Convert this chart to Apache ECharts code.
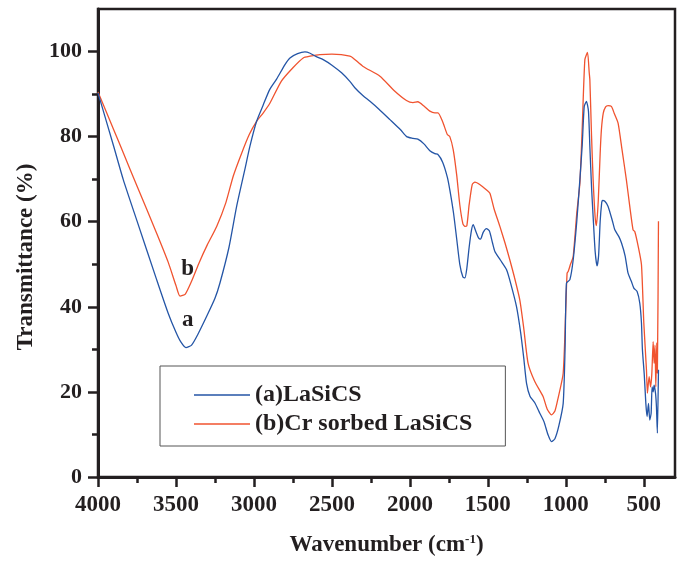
<!DOCTYPE html>
<html>
<head>
<meta charset="utf-8">
<title>FTIR spectra</title>
<script src="https://cdn.jsdelivr.net/npm/echarts@6/dist/echarts.min.js"></script>
<style>
  html, body { margin: 0; padding: 0; background: #ffffff; }
  #chart { width: 684px; height: 562px; }
</style>
</head>
<body>
<div id="chart"></div>
<script>
// FTIR spectra: wavenumber (cm-1) vs transmittance (%)
const waveA = [4000,3900,3838,3750,3624,3550,3500,3470,3436,3400,3360,3300,3250,3218,3160,3111,3060,3026,2983,2940,2900,2855,2800,2769,2720,2673,2640,2600,2556,2500,2438,2385,2353,2300,2256,2200,2128,2060,2021,1980,1949,1910,1872,1840,1820,1790,1760,1744,1720,1700,1680,1660,1647,1635,1620,1605,1594,1575,1560,1547,1530,1509,1490,1470,1455,1420,1380,1350,1316,1290,1270,1252,1230,1200,1167,1140,1115,1092,1070,1045,1017,1005,996,974,953,930,910,895,882,868,855,846,835,825,812,800,790,780,770,765,750,729,700,686,660,643,620,601,580,564,543,526,515,509,497,487,479,470,462,453,447,440,434,425,419,413,406];
const transA = [90.3,77.8,69.9,60.2,46.4,38.5,34,31.8,30.4,31,33.5,38,42,45.6,54,63.6,72,77.7,83.6,87.5,91,93.5,97,98.5,99.5,99.9,99.6,98.8,98.1,96.8,95,93,91.5,89.6,88.3,86.5,84,81.6,80,79.6,79.4,78.3,76.7,76,75.8,74,70.5,67.5,62,56,50,47,46.8,49,54,58,59.3,57.5,56.2,55.9,57.5,58.4,57.8,55,53,51,48.7,45,40,34,28,22,19,17.5,15,13,10,8.3,9,12,17.3,30,45.6,46.4,51,60,69.9,78,87.1,88.3,86,77.7,68,61.2,53,49.6,52,60,64.5,65,64.8,63.6,60,58.1,56.5,55,52,47.9,46,44.4,43.6,40.9,36.2,30,24,17.3,14.2,17.3,13.4,15,21.2,20,21.6,19.7,16.5,10.3,25.2];

const waveB = [4000,3900,3838,3750,3624,3550,3500,3474,3440,3400,3350,3300,3239,3180,3133,3080,3030,2983,2940,2897,2825,2750,2684,2640,2577,2500,2440,2385,2365,2300,2192,2100,2022,1980,1949,1910,1872,1840,1820,1790,1760,1744,1722,1700,1680,1660,1647,1635,1620,1600,1583,1550,1510,1487,1460,1423,1390,1359,1330,1295,1270,1242,1200,1146,1120,1092,1070,1050,1017,1000,992,985,970,953,930,910,895,878,861,850,846,835,825,812,804,792,780,772,760,745,729,708,690,665,640,612,590,569,558,536,515,500,483,477,466,457,449,440,434,428,423,417,413,406];
const transB = [90.5,81.7,76.2,68.4,57.3,50.5,45,42.5,43,46,50.5,54.5,58.9,64.5,70.7,76,80.5,83.6,85.6,87.9,93,96.2,98.5,98.9,99.3,99.4,99.3,98.9,98.5,96.5,94.2,90.8,88.5,88,88.2,87.2,86,85.6,85.6,83.5,80.5,80,76.9,71,64,59.5,58.9,59,64,68.8,69.3,68.7,67.5,66.7,63,58.9,55,51,47,41.6,35,26.7,22.5,18.9,16,14.6,15.5,18.5,24.4,40,47.9,48.3,50,51.8,62,69,82,98.1,99.8,95,93.4,80,69.9,61,59.1,65,76,81.6,85.5,87,87.3,87.1,85.5,83.2,77,69.9,63.6,58.1,57.7,54.2,49.9,36.2,25.2,19.7,23.6,21.2,24,31.8,26.7,31,21.2,31.5,24.4,60.1];

const seriesNames = ['(a)LaSiCS', '(b)Cr sorbed LaSiCS'];
const curveLabels = ['a', 'b'];
const labelAnchors = [[3425, 36.9], [3425, 48.9]];

const xMajorTicks = [4000, 3500, 3000, 2500, 2000, 1500, 1000, 500];
const xMinorTicks = [3750, 3250, 2750, 2250, 1750, 1250, 750];
const yMajorTicks = [0, 20, 40, 60, 80, 100];
const yMinorTicks = [10, 30, 50, 70, 90];

const FONT = "'Liberation Serif', 'Times New Roman', serif";
const INK = '#231f20';
const BLUE = '#2455a6';
const RED = '#f0532f';

function pairs(xs, ys) { return xs.map((x, i) => [x, ys[i]]); }

const chart = echarts.init(document.getElementById('chart'), null, { renderer: 'canvas' });

const tickStyle = { color: INK, width: 2.5 };

const option = {
  backgroundColor: '#ffffff',
  animation: false,
  grid: {
    left: 98, right: 9, top: 9, bottom: 85,
    containLabel: false, outerBoundsMode: 'none',
    show: true, borderColor: INK, borderWidth: 2.5, backgroundColor: 'transparent'
  },
  legend: {
    orient: 'vertical',
    left: 160, top: 366,
    padding: [17, 33, 10, 34],
    borderColor: '#555', borderWidth: 1,
    icon: 'rect',
    itemWidth: 56, itemHeight: 1.4, itemGap: 5,
    data: seriesNames,
    textStyle: { fontFamily: FONT, fontWeight: 'bold', fontSize: 24, color: INK, lineHeight: 23 }
  },
  xAxis: [{
    type: 'value', min: 300, max: 4000, inverse: true,
    name: '{t|Wavenumber (cm}{s|-1}{t|)}',
    nameLocation: 'middle', nameGap: 56,
    nameTextStyle: {
      rich: {
        t: { fontFamily: FONT, fontWeight: 'bold', fontSize: 23, color: INK },
        s: { fontFamily: FONT, fontWeight: 'bold', fontSize: 13, color: INK, verticalAlign: 'top', padding: [0, 0, 12, 0] }
      }
    },
    axisLine: { show: true, lineStyle: { color: INK, width: 3 } },
    axisTick: { show: true, length: 10, lineStyle: tickStyle, customValues: xMajorTicks },
    axisLabel: {
      margin: 17, fontFamily: FONT, fontWeight: 'bold', fontSize: 23, color: INK,
      customValues: xMajorTicks, formatter: v => String(v)
    },
    splitLine: { show: false }
  }, {
    type: 'value', min: 300, max: 4000, inverse: true, position: 'bottom',
    axisLine: { show: false },
    axisTick: { show: true, length: 6, lineStyle: tickStyle, customValues: xMinorTicks },
    axisLabel: { show: false },
    splitLine: { show: false }
  }],
  yAxis: [{
    type: 'value', min: 0, max: 110,
    name: 'Transmittance (%)',
    nameLocation: 'middle', nameGap: 60,
    nameTextStyle: { fontFamily: FONT, fontWeight: 'bold', fontSize: 23, color: INK, padding: [0, 28, 0, 0] },
    axisLine: { show: true, lineStyle: { color: INK, width: 3 } },
    axisTick: { show: true, length: 10, lineStyle: tickStyle, customValues: yMajorTicks },
    axisLabel: { margin: 16, fontFamily: FONT, fontWeight: 'bold', fontSize: 22, color: INK, customValues: yMajorTicks },
    splitLine: { show: false }
  }, {
    type: 'value', min: 0, max: 110, position: 'left',
    axisLine: { show: false },
    axisTick: { show: true, length: 6, lineStyle: tickStyle, customValues: yMinorTicks },
    axisLabel: { show: false },
    splitLine: { show: false }
  }],
  series: [{
    name: seriesNames[0], type: 'line', xAxisIndex: 0, yAxisIndex: 0,
    data: pairs(waveA, transA),
    symbol: 'none', smooth: 0.2,
    lineStyle: { color: BLUE, width: 1.3 }, itemStyle: { color: BLUE },
    z: 3
  }, {
    name: seriesNames[1], type: 'line', xAxisIndex: 0, yAxisIndex: 0,
    data: pairs(waveB, transB),
    symbol: 'none', smooth: 0.2,
    lineStyle: { color: RED, width: 1.3 }, itemStyle: { color: RED },
    z: 2
  }]
};

chart.setOption(option);

// Curve tags placed from data coordinates
const tagGraphics = curveLabels.map((txt, i) => {
  const p = chart.convertToPixel({ gridIndex: 0 }, labelAnchors[i]);
  return {
    type: 'text', x: p[0], y: p[1],
    style: { text: txt, fontFamily: FONT, fontWeight: 'bold', fontSize: 23, fill: INK, align: 'center', verticalAlign: 'middle' }
  };
});
chart.setOption({ graphic: tagGraphics });
</script>
</body>
</html>
